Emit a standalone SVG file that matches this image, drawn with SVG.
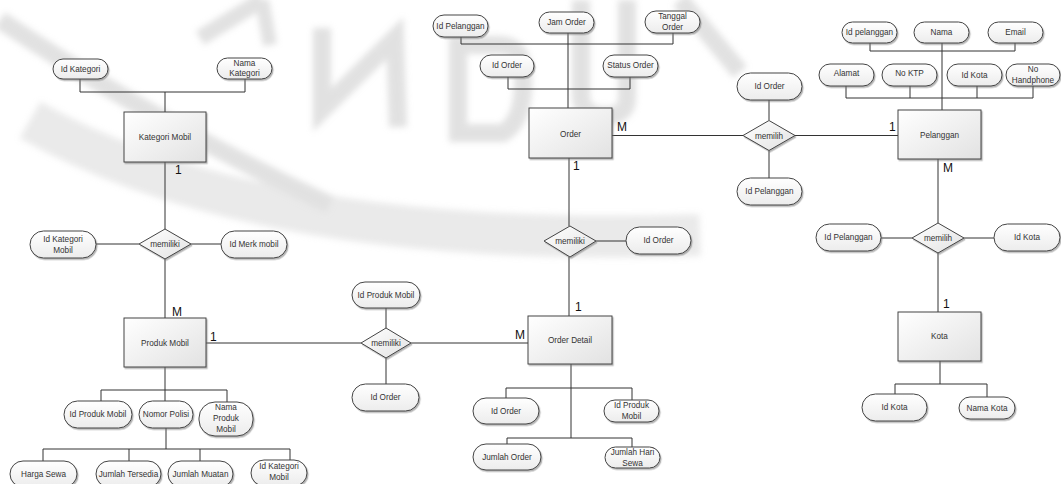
<svg xmlns="http://www.w3.org/2000/svg" width="1061" height="484" viewBox="0 0 1061 484">
<defs>
<linearGradient id="gBox" x1="0" y1="0" x2="1" y2="1"><stop offset="0" stop-color="#ffffff"/><stop offset="1" stop-color="#e2e2e2"/></linearGradient>
<linearGradient id="gPill" x1="0" y1="0" x2="0" y2="1"><stop offset="0" stop-color="#ffffff"/><stop offset="1" stop-color="#ececec"/></linearGradient>
<filter id="sh" x="-10%" y="-10%" width="130%" height="140%"><feDropShadow dx="1.2" dy="1.5" stdDeviation="0.7" flood-color="#777" flood-opacity="0.55"/></filter>
<filter id="blur" filterUnits="userSpaceOnUse" x="0" y="0" width="1061" height="484"><feGaussianBlur stdDeviation="3"/></filter>
</defs>
<style>
.ent{fill:url(#gBox);stroke:#444;stroke-width:1;filter:url(#sh)}
.att{fill:url(#gPill);stroke:#444;stroke-width:1;filter:url(#sh)}
.rel{fill:url(#gBox);stroke:#444;stroke-width:1;filter:url(#sh)}
.t{font-family:"Liberation Sans",Arial,sans-serif;font-size:8.2px;fill:#333;text-anchor:middle}
.c{font-family:"Liberation Sans",Arial,sans-serif;font-size:12px;fill:#111}
.ln{fill:none;stroke:#333;stroke-width:1}
.wm{fill:none;stroke:#c4c4c4;stroke-linecap:butt;stroke-linejoin:miter}
</style>
<rect width="1061" height="484" fill="#ffffff"/>
<g id="watermark" opacity="0.5" filter="url(#blur)">
<path class="wm" d="M0,20 Q150,120 330,205" stroke-width="18"/>
<path class="wm" d="M30,120 Q260,250 700,235" stroke-width="42" opacity="0.7"/>
<path class="wm" d="M200,38 L262,0" stroke-width="16"/>
<path class="wm" d="M262,0 L270,45" stroke-width="14"/>
<path class="wm" d="M322,28 L322,110 L395,38 L398,127" stroke-width="18"/>
<path class="wm" d="M458,45 V133 H503 Q528,118 522,62 Q518,45 498,45 Z" stroke-width="18"/>
<path class="wm" d="M581,0 V98 Q583,116 605,116 Q627,116 627,98 V0" stroke-width="18"/>
<path class="wm" d="M680,0 L740,72" stroke-width="18"/>
</g>
<g id="connectors">
<path class="ln" d="M80,79 V92 H245 V79 M165,92 V112"/>
<path class="ln" d="M165,162 V229 M96,244 H139 M191,244 H221 M165,259 V318"/>
<path class="ln" d="M206,343 H361 M411,343 H528" stroke="#111" stroke-width="1.2"/>
<path class="ln" d="M165,367 V390 M101,390 H227 M101,390 V401 M227,390 V402 M165,390 V401"/>
<path class="ln" d="M166,428 V449 M43,449 H290 M43,449 V461 M129,449 V461 M200,449 V461 M290,449 V460"/>
<path class="ln" d="M461,37 V44 H673 V33 M508,77 V89 H630 V77 M568,33 V108"/>
<path class="ln" d="M612,135.5 H743 M795,135.5 H898 M769,100 V120 M769,151 V178"/>
<path class="ln" d="M569,158 V226 M596,241 H626 M569,257 V316"/>
<path class="ln" d="M386,308 V328 M386,358 V384"/>
<path class="ln" d="M571,364 V438 M506,388 H632 M506,388 V398 M632,388 V400 M507,438 H632 M507,438 V444 M632,438 V447"/>
<path class="ln" d="M870,43 V51 H1015 V43 M942,43 V110 M846,86 V98 H1033 V86 M910,86 V98 M977,86 V98"/>
<path class="ln" d="M938,159 V223 M881,238 H912 M964,238 H994 M938,253 V312"/>
<path class="ln" d="M940,361 V384 M895,384 H987 M895,384 V394 M987,384 V397"/>
</g>
<g id="cardinality">
<text class="c" x="175" y="174">1</text>
<text class="c" x="172" y="316">M</text>
<text class="c" x="210" y="341">1</text>
<text class="c" x="617" y="131">M</text>
<text class="c" x="573" y="170">1</text>
<text class="c" x="575" y="311">1</text>
<text class="c" x="515" y="339">M</text>
<text class="c" x="889" y="131">1</text>
<text class="c" x="943" y="172">M</text>
<text class="c" x="943" y="308">1</text>
</g>
<g id="kategori-mobil"><rect class="ent" x="124" y="112" width="82" height="50"/><text class="t" x="165" y="140">Kategori Mobil</text></g>
<g id="attr-id-kategori"><rect class="att" x="53" y="59" width="55" height="20" rx="10"/><text class="t" x="80.5" y="72">Id Kategori</text></g>
<g id="attr-nama-kategori"><rect class="att" x="217" y="58" width="55" height="21" rx="10.5"/><text class="t" x="244.5" y="66">Nama</text><text class="t" x="244.5" y="76">Kategori</text></g>
<g id="rel-memiliki-1"><polygon class="rel" points="165,229 191,244 165,259 139,244"/><text class="t" x="165" y="247">memiliki</text></g>
<g id="attr-id-kategori-mobil"><rect class="att" x="30" y="231" width="66" height="27" rx="13.5"/><text class="t" x="63" y="242">Id Kategori</text><text class="t" x="63" y="253">Mobil</text></g>
<g id="attr-id-merk-mobil"><rect class="att" x="221" y="231" width="66" height="27" rx="13.5"/><text class="t" x="254" y="247">Id Merk mobil</text></g>
<g id="produk-mobil"><rect class="ent" x="124" y="318" width="82" height="49"/><text class="t" x="165" y="346">Produk Mobil</text></g>
<g id="attr-pm-id-produk"><rect class="att" x="64" y="401" width="68" height="27" rx="13.5"/><text class="t" x="98" y="417">Id Produk Mobil</text></g>
<g id="attr-pm-nomor-polisi"><rect class="att" x="139" y="401" width="54" height="27" rx="13.5"/><text class="t" x="166" y="417">Nomor Polisi</text></g>
<g id="attr-pm-nama-produk"><rect class="att" x="199" y="402" width="54" height="34" rx="16"/><text class="t" x="226" y="410">Nama</text><text class="t" x="226" y="421">Produk</text><text class="t" x="226" y="432">Mobil</text></g>
<g id="attr-pm-harga-sewa"><rect class="att" x="10" y="461" width="67" height="26" rx="13"/><text class="t" x="43.5" y="477">Harga Sewa</text></g>
<g id="attr-pm-jumlah-tersedia"><rect class="att" x="96" y="461" width="65" height="26" rx="13"/><text class="t" x="128.5" y="477">Jumlah Tersedia</text></g>
<g id="attr-pm-jumlah-muatan"><rect class="att" x="168" y="461" width="65" height="26" rx="13"/><text class="t" x="200.5" y="477">Jumlah Muatan</text></g>
<g id="attr-pm-id-kategori-mobil"><rect class="att" x="251" y="460" width="56" height="26" rx="13"/><text class="t" x="279" y="469">Id Kategori</text><text class="t" x="279" y="480">Mobil</text></g>
<g id="rel-memiliki-2"><polygon class="rel" points="386,328 411,343 386,358 361,343"/><text class="t" x="386" y="346">memiliki</text></g>
<g id="attr-rel2-id-produk"><rect class="att" x="352" y="282" width="68" height="26" rx="13"/><text class="t" x="386" y="298">Id Produk Mobil</text></g>
<g id="attr-rel2-id-order"><rect class="att" x="352" y="384" width="67" height="27" rx="13.5"/><text class="t" x="385.5" y="400">Id Order</text></g>
<g id="order"><rect class="ent" x="529" y="108" width="83" height="50"/><text class="t" x="570.5" y="137">Order</text></g>
<g id="attr-o-id-pelanggan"><rect class="att" x="433" y="15" width="55" height="22" rx="11"/><text class="t" x="460.5" y="29">Id Pelanggan</text></g>
<g id="attr-o-jam-order"><rect class="att" x="539" y="12" width="55" height="21" rx="10.5"/><text class="t" x="566.5" y="25">Jam Order</text></g>
<g id="attr-o-tanggal-order"><rect class="att" x="645" y="11" width="55" height="22" rx="11"/><text class="t" x="672.5" y="19">Tanggal</text><text class="t" x="672.5" y="30">Order</text></g>
<g id="attr-o-id-order"><rect class="att" x="480" y="55" width="54" height="22" rx="11"/><text class="t" x="507" y="68">Id Order</text></g>
<g id="attr-o-status-order"><rect class="att" x="603" y="55" width="55" height="22" rx="11"/><text class="t" x="630.5" y="68">Status Order</text></g>
<g id="rel-memiliki-3"><polygon class="rel" points="570,226 596,241 570,257 544,241"/><text class="t" x="570" y="244">memiliki</text></g>
<g id="attr-rel3-id-order"><rect class="att" x="626" y="227" width="65" height="27" rx="13.5"/><text class="t" x="658.5" y="243">Id Order</text></g>
<g id="order-detail"><rect class="ent" x="528" y="316" width="84" height="48"/><text class="t" x="570" y="343">Order Detail</text></g>
<g id="attr-od-id-order"><rect class="att" x="473" y="398" width="66" height="26" rx="13"/><text class="t" x="506" y="414">Id Order</text></g>
<g id="attr-od-id-produk"><rect class="att" x="604" y="400" width="55" height="22" rx="11"/><text class="t" x="631.5" y="408">Id Produk</text><text class="t" x="631.5" y="419">Mobil</text></g>
<g id="attr-od-jumlah-order"><rect class="att" x="473" y="444" width="68" height="26" rx="13"/><text class="t" x="507" y="460">Jumlah Order</text></g>
<g id="attr-od-jumlah-hari"><rect class="att" x="605" y="447" width="55" height="21" rx="10.5"/><text class="t" x="632.5" y="455">Jumlah Hari</text><text class="t" x="632.5" y="466">Sewa</text></g>
<g id="rel-memilih-1"><polygon class="rel" points="769,120.5 795,135.5 769,150.5 743,135.5"/><text class="t" x="769" y="138.5">memilih</text></g>
<g id="attr-rel4-id-order"><rect class="att" x="737" y="73" width="65" height="27" rx="13.5"/><text class="t" x="769.5" y="89">Id Order</text></g>
<g id="attr-rel4-id-pelanggan"><rect class="att" x="737" y="178" width="65" height="27" rx="13.5"/><text class="t" x="769.5" y="194">Id Pelanggan</text></g>
<g id="pelanggan"><rect class="ent" x="898" y="110" width="83" height="49"/><text class="t" x="939.5" y="138">Pelanggan</text></g>
<g id="attr-p-id-pelanggan"><rect class="att" x="842" y="22" width="55" height="21" rx="10.5"/><text class="t" x="869.5" y="35">Id pelanggan</text></g>
<g id="attr-p-nama"><rect class="att" x="914" y="22" width="55" height="21" rx="10.5"/><text class="t" x="941.5" y="35">Nama</text></g>
<g id="attr-p-email"><rect class="att" x="988" y="22" width="55" height="21" rx="10.5"/><text class="t" x="1015.5" y="35">Email</text></g>
<g id="attr-p-alamat"><rect class="att" x="819" y="64" width="55" height="22" rx="11"/><text class="t" x="846.5" y="76">Alamat</text></g>
<g id="attr-p-no-ktp"><rect class="att" x="882" y="64" width="55" height="22" rx="11"/><text class="t" x="909.5" y="76">No KTP</text></g>
<g id="attr-p-id-kota"><rect class="att" x="947" y="64" width="55" height="22" rx="11"/><text class="t" x="974.5" y="78">Id Kota</text></g>
<g id="attr-p-no-handphone"><rect class="att" x="1006" y="64" width="54" height="22" rx="11"/><text class="t" x="1033" y="72">No</text><text class="t" x="1033" y="83">Handphone</text></g>
<g id="rel-memilih-2"><polygon class="rel" points="938,223 964,238 938,253 912,238"/><text class="t" x="938" y="241">memilih</text></g>
<g id="attr-rel5-id-pelanggan"><rect class="att" x="816" y="224" width="65" height="27" rx="13.5"/><text class="t" x="848.5" y="240">Id Pelanggan</text></g>
<g id="attr-rel5-id-kota"><rect class="att" x="994" y="224" width="66" height="27" rx="13.5"/><text class="t" x="1027" y="240">Id Kota</text></g>
<g id="kota"><rect class="ent" x="898" y="312" width="83" height="49"/><text class="t" x="939.5" y="339">Kota</text></g>
<g id="attr-k-id-kota"><rect class="att" x="862" y="394" width="65" height="27" rx="13.5"/><text class="t" x="894.5" y="410">Id Kota</text></g>
<g id="attr-k-nama-kota"><rect class="att" x="959" y="397" width="56" height="22" rx="11"/><text class="t" x="987" y="411">Nama Kota</text></g>
</svg>
